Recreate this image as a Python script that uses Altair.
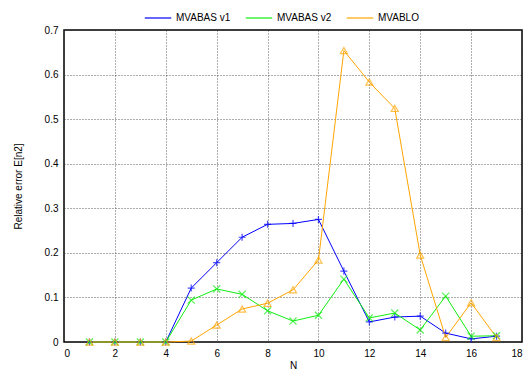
import altair as alt
import pandas as pd

N = list(range(1, 18))
v1 = [0, 0, 0, 0, 0.121, 0.178, 0.235, 0.264, 0.266, 0.275, 0.159, 0.045, 0.056, 0.058, 0.020, 0.007, 0.013]
v2 = [0, 0, 0, 0, 0.094, 0.119, 0.107, 0.070, 0.047, 0.060, 0.141, 0.054, 0.065, 0.027, 0.103, 0.013, 0.014]
blo = [0, 0, 0, 0, 0.002, 0.038, 0.074, 0.087, 0.117, 0.184, 0.654, 0.583, 0.524, 0.195, 0.010, 0.088, 0.010]

series = ["MVABAS v1", "MVABAS v2", "MVABLO"]
colors = ["#0000ff", "#11ee11", "#ffa500"]
shapes = ["M-1,0L1,0M0,-1L0,1", "M-1,-1L1,1M-1,1L1,-1", "triangle-up"]

rows = []
for name, vals in zip(series, [v1, v2, blo]):
    for n, v in zip(N, vals):
        rows.append({"N": n, "err": v, "series": name})
df = pd.DataFrame(rows)

x = alt.X("N:Q", scale=alt.Scale(domain=[0, 18], nice=False),
          axis=alt.Axis(values=list(range(0, 19, 2)), title="N", format="d"))
y = alt.Y("err:Q", scale=alt.Scale(domain=[0, 0.7], nice=False),
          axis=alt.Axis(values=[0, 0.1, 0.2, 0.3, 0.4, 0.5, 0.6, 0.7], title="Relative error E[n2]",
                        titleX=-41, format="~g"))

base = alt.Chart(df).encode(x=x, y=y)

lines = base.mark_line(strokeWidth=1).encode(
    color=alt.Color("series:N", scale=alt.Scale(domain=series, range=colors),
                    legend=alt.Legend(title=None, orient="none", legendX=80, legendY=-26,
                                      direction="horizontal", symbolType="stroke",
                                      symbolSize=700, symbolStrokeWidth=1.2,
                                      columnPadding=12, labelFontSize=10))
)

points = base.mark_point(size=50, strokeWidth=1.2, filled=False).encode(
    color=alt.Color("series:N", scale=alt.Scale(domain=series, range=colors), legend=None),
    shape=alt.Shape("series:N", scale=alt.Scale(domain=series, range=shapes), legend=None),
)

chart = (lines + points).resolve_legend(color="independent", shape="independent").properties(
    width=458, height=312,
    autosize=alt.AutoSizeParams(type="none"),
    padding={"left": 56, "top": 22, "right": 2, "bottom": 30},
).configure_view(stroke="black", strokeWidth=1.5).configure_axis(
    grid=True, gridColor="#333", gridDash=[1, 2], gridOpacity=0.8,
    domain=False, ticks=False, labelFont="Liberation Sans", titleFont="Liberation Sans",
    labelFontSize=10, titleFontSize=10, titleFontWeight="normal", labelColor="black",
    titleColor="black", labelPadding=6,
).configure_axisX(titlePadding=2).configure_legend(
    labelFont="Liberation Sans", labelColor="black"
)

chart.save("out.html", embed_options={"renderer": "svg", "actions": False})
